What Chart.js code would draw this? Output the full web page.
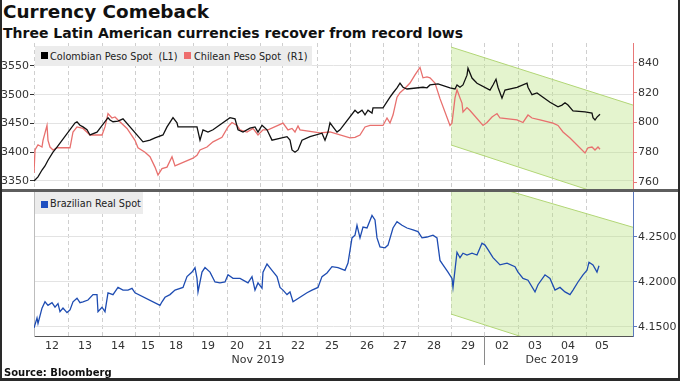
<!DOCTYPE html>
<html><head><meta charset="utf-8">
<script src="https://cdn.jsdelivr.net/npm/chart.js@4.4.0/dist/chart.umd.min.js"></script>
<style>
html,body{margin:0;padding:0;background:#fff;}
#wrap{position:relative;width:680px;height:381px;overflow:hidden;background:#fff;font-family:"DejaVu Sans",sans-serif;color:#111;}
#title{position:absolute;left:3px;top:2.5px;font-weight:bold;font-size:18.4px;line-height:1;white-space:nowrap;}
#sub{position:absolute;left:3px;top:25.5px;font-weight:bold;font-size:14px;line-height:1;white-space:nowrap;}
#src{position:absolute;left:4px;top:368px;font-weight:bold;font-size:10px;line-height:1;white-space:nowrap;}
canvas{position:absolute;left:0;}
#ctop{top:43px;}
#cbot{top:192px;}
.leg{position:absolute;background:#ececec;font-size:9.7px;line-height:1;color:#222;white-space:nowrap;}
.sq{position:absolute;width:7px;height:7px;}
.lt{position:absolute;}
#sep{position:absolute;left:0;top:189px;width:680px;height:3px;background:#5e5e5e;}
.fr{position:absolute;background:#2a2a2a;}
</style></head><body>
<div id="wrap">
<div id="title">Currency Comeback</div>
<div id="sub">Three Latin American currencies recover from record lows</div>
<canvas id="ctop" width="680" height="146"></canvas>
<canvas id="cbot" width="680" height="189"></canvas>
<div class="leg" style="left:35px;top:46px;width:277px;height:20px;">
  <div class="sq" style="left:6px;top:6px;background:#000;"></div>
  <div class="lt" style="left:15px;top:5.5px;">Colombian Peso Spot&nbsp;&nbsp;(L1)</div>
  <div class="sq" style="left:149px;top:6px;background:#ee6e6e;"></div>
  <div class="lt" style="left:159px;top:5.5px;">Chilean Peso Spot&nbsp;&nbsp;(R1)</div>
</div>
<div class="leg" style="left:35px;top:192px;width:108px;height:22px;">
  <div class="sq" style="left:6px;top:9px;background:#1f4fc0;"></div>
  <div class="lt" style="left:15px;top:6.8px;">Brazilian Real Spot</div>
</div>
<div id="sep"></div>
<div id="src">Source: Bloomberg</div>
<div class="fr" style="left:0;top:0;width:2px;height:381px;"></div>
<div class="fr" style="left:678px;top:0;width:2px;height:381px;"></div>
<div class="fr" style="left:0;top:378px;width:680px;height:3px;"></div>
</div>
<script>
// ---- data (x = trading-time index along the axis) ----
const dayBounds = [0,34,68,101,125,159,193,226,248,283,316,349,384,417,450,484,518,552];
const dayTicks  = [18,51,84,114,142,174,203,231,264,298,333,366,400,434,468,501,534,568];
const dayLabels = ["12","13","14","15","18","19","20","21","22","25","26","27","28","29","02","03","04","05"];
const monthTicks  = [224,518];
const monthLabels = ["Nov 2019","Dec 2019"];
const monthSplit = 450;
const xMin = 0, xMax = 599;

const copTicks = [3350,3400,3450,3500,3550];
const clpTicks = [760,780,800,820,840];
const brlTicks = [4.15,4.20,4.25];

const cop = [[0,3350],[4,3357],[8,3369],[11,3376],[14,3386],[19,3400],[23,3409],[41,3451],[43,3453],[46,3447],[49,3444],[53,3439],[56,3430],[63,3435],[74,3460],[76,3456],[79,3453],[84,3454],[89,3458],[109,3418],[116,3421],[121,3425],[129,3430],[133,3444],[139,3460],[143,3451],[144,3444],[163,3444],[166,3421],[169,3439],[174,3435],[179,3439],[196,3460],[201,3458],[204,3439],[209,3435],[216,3442],[221,3444],[224,3435],[228,3447],[233,3439],[238,3421],[253,3427],[256,3421],[258,3404],[261,3400],[264,3404],[268,3421],[276,3427],[288,3433],[291,3421],[294,3435],[296,3451],[299,3444],[303,3435],[306,3439],[321,3473],[324,3468],[328,3473],[331,3465],[334,3473],[338,3468],[339,3477],[349,3477],[356,3496],[359,3503],[363,3512],[366,3520],[369,3513],[373,3510],[389,3513],[393,3512],[396,3517],[404,3519],[416,3512],[421,3510],[423,3517],[426,3513],[429,3517],[433,3534],[434,3546],[438,3529],[443,3520],[456,3508],[459,3517],[462,3527],[464,3513],[468,3494],[471,3508],[483,3513],[493,3520],[494,3513],[498,3500],[503,3503],[516,3487],[524,3479],[528,3482],[531,3486],[534,3482],[539,3472],[551,3470],[558,3468],[559,3460],[561,3456],[563,3461],[566,3466]];

const clp = [[0,766],[1,781.5],[4,785],[8,783.5],[9,788],[13,798],[14,788],[16,783.5],[19,781.5],[23,783],[36,783],[39,793.6],[43,797],[49,796],[56,791.6],[68,791.6],[71,797],[74,806],[78,803],[81,803.7],[84,801.7],[93,796],[101,788],[104,783],[111,780],[116,777],[121,770],[124,764.7],[128,769],[133,770],[138,777],[141,770.8],[159,776],[163,778],[166,781.5],[173,783.5],[179,787],[188,790],[194,797],[198,800],[203,798],[206,795],[213,793.6],[219,796],[224,791.6],[229,795],[234,795],[249,799.6],[254,795],[258,796],[261,793.6],[264,797.6],[266,795],[286,793],[296,793.6],[316,789.6],[321,790],[326,791.6],[331,797],[336,798],[349,798],[353,803],[356,799.6],[359,805],[363,817],[366,820],[371,823],[376,826.5],[381,832],[386,837],[389,830],[393,830.6],[396,830],[401,826.5],[406,816],[416,798],[418,799.6],[421,816.5],[423,822],[426,816.5],[428,813],[429,807],[433,810],[436,808],[449,798],[453,800],[458,803.7],[463,806],[466,803],[483,801.7],[489,800],[494,805],[498,803],[506,801.7],[519,799.6],[524,798],[529,793.6],[536,789.6],[551,779.5],[554,783],[558,783.5],[561,781.5],[564,783.5],[566,782]];

const brl = [[0,4.149],[3,4.160],[4,4.154],[8,4.171],[11,4.178],[14,4.174],[18,4.177],[21,4.172],[24,4.176],[26,4.167],[29,4.171],[33,4.166],[36,4.169],[39,4.178],[43,4.182],[46,4.177],[49,4.178],[54,4.180],[59,4.186],[63,4.186],[64,4.167],[68,4.172],[71,4.167],[74,4.188],[79,4.186],[84,4.194],[89,4.191],[94,4.191],[98,4.193],[101,4.188],[126,4.174],[128,4.178],[131,4.183],[136,4.186],[141,4.191],[149,4.194],[153,4.206],[158,4.211],[161,4.216],[163,4.204],[164,4.189],[168,4.211],[171,4.216],[176,4.211],[181,4.200],[186,4.199],[191,4.200],[194,4.208],[199,4.204],[206,4.204],[214,4.199],[218,4.206],[221,4.191],[224,4.199],[228,4.193],[229,4.211],[233,4.220],[238,4.213],[243,4.206],[246,4.194],[249,4.191],[253,4.186],[256,4.189],[259,4.178],[266,4.183],[273,4.188],[278,4.191],[284,4.194],[288,4.206],[293,4.210],[298,4.217],[304,4.216],[311,4.213],[314,4.221],[318,4.249],[321,4.252],[323,4.263],[326,4.249],[329,4.261],[333,4.260],[338,4.274],[341,4.269],[343,4.249],[346,4.239],[351,4.238],[354,4.241],[359,4.260],[363,4.267],[368,4.263],[373,4.260],[379,4.258],[384,4.256],[388,4.249],[393,4.250],[399,4.252],[403,4.249],[406,4.224],[409,4.219],[414,4.211],[418,4.204],[419,4.194],[423,4.233],[426,4.227],[429,4.232],[433,4.230],[438,4.232],[443,4.230],[448,4.243],[451,4.241],[454,4.236],[459,4.227],[466,4.219],[473,4.221],[481,4.217],[484,4.211],[489,4.204],[494,4.202],[501,4.189],[504,4.197],[511,4.208],[516,4.204],[521,4.191],[526,4.194],[531,4.189],[536,4.186],[539,4.191],[544,4.200],[549,4.208],[553,4.213],[555,4.222],[559,4.219],[563,4.211],[565,4.218]];

const chanTopUpper = [[417,3583],[599,3482]];
const chanTopLower = [[417,3412.6],[599,3309]];
const chanBotUpper = [[417,4.320],[599,4.2608]];
const chanBotLower = [[417,4.1644],[599,4.0994]];

// ---- helpers ----
const pts = a => a.map(p => ({x:p[0], y:p[1]}));
const setTicks = arr => s => { s.ticks = arr.map(v => ({value:v})); };
const fixW = w => s => { s.width = w; s.paddingTop = 0; s.paddingBottom = 0; };
const fixH = h => s => { s.height = h; s.paddingLeft = 0; s.paddingRight = 0; };
const FONT = {family:'DejaVu Sans', size:11};
const GRIDV = {color:'#cfcfcf', lineWidth:1, drawTicks:false};
const CH_LINE = 'rgb(178,214,118)';
const CH_FILL = 'rgba(180,225,120,0.36)';

Chart.defaults.font.family = 'DejaVu Sans';
Chart.defaults.color = '#333';

function lineDs(data, color, yId, order){
  return {data:pts(data), borderColor:color, borderWidth:1.3, pointRadius:0, tension:0, fill:false, yAxisID:yId, xAxisID:'xg', order:order};
}
function chanDs(data, yId, fill){
  return {data:pts(data), borderColor:CH_LINE, borderWidth:1, pointRadius:0, tension:0,
          fill: fill ? '-1' : false, backgroundColor:CH_FILL, yAxisID:yId, xAxisID:'xg', order:10};
}
const xGrid = {type:'linear', position:'bottom', min:xMin, max:xMax, weight:0,
  afterBuildTicks:setTicks(dayBounds), afterFit:fixH(0),
  ticks:{display:false}, grid:GRIDV, border:{display:false, dash:[4,3]}};

// ---- top panel ----
new Chart(document.getElementById('ctop'), {
  type:'line',
  data:{datasets:[
    lineDs(cop,'#111','yl',1),
    lineDs(clp,'rgb(232,112,110)','yr',2),
    chanDs(chanTopUpper,'yl',false),
    chanDs(chanTopLower,'yl',true)
  ]},
  options:{
    responsive:false, animation:false, events:[],
    layout:{padding:0},
    plugins:{legend:{display:false}, tooltip:{enabled:false}},
    scales:{
      xg:xGrid,
      yl:{type:'linear', position:'left', min:3336, max:3590,
        afterBuildTicks:setTicks(copTicks), afterFit:fixW(34),
        ticks:{font:FONT, color:'#333', padding:1, callback:v=>String(v)},
        grid:{color:'#e3e3e3', tickColor:'#333', tickLength:4},
        border:{display:false}},
      yr:{type:'linear', position:'right', min:755.3, max:853.4,
        afterBuildTicks:setTicks(clpTicks), afterFit:fixW(47),
        ticks:{font:FONT, color:'#333', padding:1, callback:v=>String(v)},
        grid:{drawOnChartArea:false, tickColor:'rgb(232,120,120)', tickLength:4},
        border:{display:true, color:'rgb(232,120,120)', width:1}}
    }
  }
});

// ---- bottom panel ----
const sepPlugin = {id:'monthSep', afterDraw(c){
  const s = c.scales.xd, ctx = c.ctx;
  const x = Math.round(s.getPixelForValue(monthSplit)) + 0.5;
  ctx.save(); ctx.strokeStyle = '#8a8a8a'; ctx.lineWidth = 1;
  ctx.beginPath(); ctx.moveTo(x, c.chartArea.bottom); ctx.lineTo(x, c.chartArea.bottom + 29); ctx.stroke();
  ctx.restore();
}};
new Chart(document.getElementById('cbot'), {
  type:'line',
  data:{datasets:[
    lineDs(brl,'rgb(30,76,178)','yb',1),
    chanDs(chanBotUpper,'yb',false),
    chanDs(chanBotLower,'yb',true)
  ]},
  plugins:[sepPlugin],
  options:{
    responsive:false, animation:false, events:[],
    layout:{padding:{left:0,right:0,top:0,bottom:10}},
    plugins:{legend:{display:false}, tooltip:{enabled:false}},
    scales:{
      xg:xGrid,
      xd:{type:'linear', position:'bottom', min:xMin, max:xMax, weight:1,
        afterBuildTicks:setTicks(dayTicks), afterFit:fixH(15),
        ticks:{font:FONT, color:'#333', padding:4, autoSkip:false, maxRotation:0,
               callback:(v,i)=>dayLabels[i]},
        grid:{display:false, drawTicks:false},
        border:{display:true, color:'#555', width:1}},
      xm:{type:'linear', position:'bottom', min:xMin, max:xMax, weight:2,
        afterBuildTicks:setTicks(monthTicks), afterFit:fixH(20),
        ticks:{font:FONT, color:'#333', padding:3, autoSkip:false, maxRotation:0,
               callback:(v,i)=>monthLabels[i]},
        grid:{display:false, drawTicks:false},
        border:{display:false}},
      yleft:{type:'linear', position:'left', afterFit:fixW(34),
        ticks:{display:false}, grid:{display:false, drawTicks:false},
        border:{display:true, color:'#bdbdbd', width:1}},
      yb:{type:'linear', position:'right', min:4.140, max:4.300,
        afterBuildTicks:setTicks(brlTicks), afterFit:fixW(47),
        ticks:{font:FONT, color:'#333', padding:1, callback:v=>v.toFixed(4)},
        grid:{color:'#e3e3e3', tickColor:'rgb(90,120,190)', tickLength:4},
        border:{display:true, color:'rgb(90,120,190)', width:1}}
    }
  }
});
</script>
</body></html>
